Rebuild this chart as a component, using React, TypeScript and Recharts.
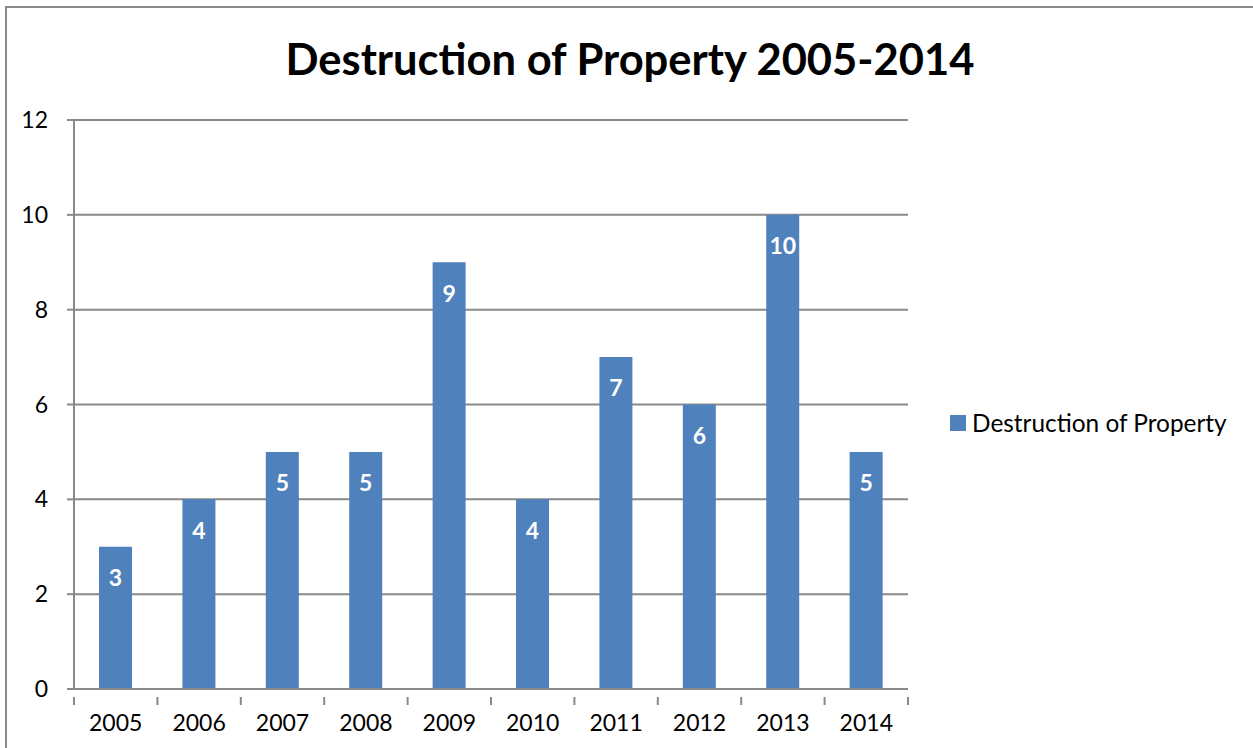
import React from 'react';
import { BarChart, Bar, XAxis, YAxis, CartesianGrid, LabelList } from 'recharts';

const years = ['2005', '2006', '2007', '2008', '2009', '2010', '2011', '2012', '2013', '2014'];
const incidents = [3, 4, 5, 5, 9, 4, 7, 6, 10, 5];
const yTicks = [0, 2, 4, 6, 8, 10, 12];
const seriesName = 'Destruction of Property';
const title = 'Destruction of Property 2005-2014';

const data = years.map((y, i) => ({ year: y, value: incidents[i] }));

const FONT = 'Lato, "Noto Sans", sans-serif';
const GRID = '#898989';
const BAR = '#4F81BD';

const XTick = (props: any) => {
  const { x, y, payload, index, visibleTicksCount } = props;
  const off = payload.offset || 0;
  const last = index === (visibleTicksCount ?? years.length) - 1;
  return (
    <g>
      <line x1={x - off} x2={x - off} y1={y} y2={y + 8} stroke={GRID} strokeWidth={2} />
      {last && <line x1={x + off} x2={x + off} y1={y} y2={y + 8} stroke={GRID} strokeWidth={2} />}
      <text x={x} y={y + 34} textAnchor="middle" fontFamily={FONT} fontSize={23} fill="#000">
        {payload.value}
      </text>
    </g>
  );
};

export default function App() {
  return (
    <div style={{ position: 'absolute', left: 0, top: 0, width: 1253, height: 748, background: '#fff', overflow: 'hidden' }}>
      <div style={{ position: 'absolute', left: 5, top: 6, width: 1300, height: 800, border: `2px solid ${GRID}`, boxSizing: 'border-box' }} />
      <div style={{ position: 'absolute', left: 0, top: 31, width: 1260, textAlign: 'center', fontFamily: FONT, fontWeight: 700, fontSize: 43.5, lineHeight: '54px', color: '#000' }}>
        {title}
      </div>
      <div style={{ position: 'absolute', left: 0, top: 0 }}>
        <BarChart width={1253} height={748} data={data} margin={{ top: 120, right: 345, bottom: 0, left: 14 }} barCategoryGap="30%">
          <CartesianGrid vertical={false} stroke={GRID} strokeWidth={2} />
          <XAxis dataKey="year" axisLine={{ stroke: GRID, strokeWidth: 2 }} tickLine={false} tick={<XTick />} height={59} interval={0} />
          <YAxis domain={[0, 12]} ticks={yTicks} width={60} axisLine={{ stroke: GRID, strokeWidth: 2 }} tickLine={{ stroke: GRID, strokeWidth: 2 }} tickSize={7} tickMargin={19} tick={{ fontFamily: FONT, fontSize: 23, fill: '#000' }} />
          <Bar dataKey="value" name={seriesName} fill={BAR} isAnimationActive={false}>
            <LabelList dataKey="value" position="insideTop" offset={23} fill="#fff" fontFamily={FONT} fontWeight={700} fontSize={23} />
          </Bar>
        </BarChart>
      </div>
      <div style={{ position: 'absolute', left: 950, top: 408, display: 'flex', alignItems: 'center', fontFamily: FONT, fontSize: 24.4, lineHeight: '30px', color: '#000', whiteSpace: 'nowrap' }}>
        <span style={{ display: 'inline-block', width: 16, height: 16, background: BAR, marginRight: 6 }} />
        {seriesName}
      </div>
    </div>
  );
}
